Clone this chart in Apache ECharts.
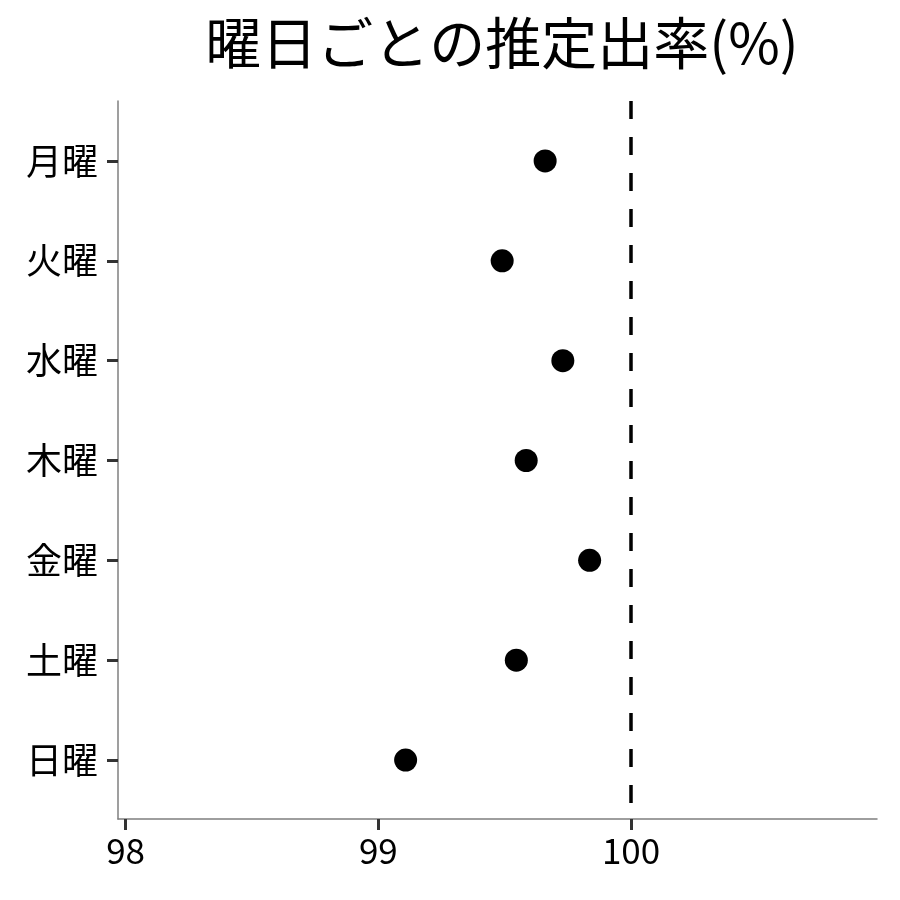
<!DOCTYPE html>
<html>
<head>
<meta charset="utf-8">
<script src="https://cdn.jsdelivr.net/npm/echarts@6/dist/echarts.min.js"></script>
<style>
  html, body { margin: 0; padding: 0; background: #fff; }
  #chart { width: 900px; height: 900px; }
</style>
</head>
<body>
<div id="chart"></div>
<script>
// 曜日ごとの推定出率
const days = ['月曜', '火曜', '水曜', '木曜', '金曜', '土曜', '日曜']
const rates = [99.66, 99.49, 99.73, 99.585, 99.836, 99.546, 99.108]
const xTicks = [98, 99, 100]
const refValue = 100

const FONT = '"Noto Sans CJK JP", "Noto Sans", sans-serif'
const dayPos = days.map((d, i) => i + 1)

const chart = echarts.init(document.getElementById('chart'))
chart.setOption({
  animation: false,
  backgroundColor: '#fff',
  title: {
    text: '曜日ごとの推定出率(%)',
    left: 497,
    textAlign: 'center',
    top: 10,
    textStyle: { fontFamily: FONT, fontSize: 56, fontWeight: 'normal', color: '#000' },
  },
  grid: { left: 118, right: 23, top: 101, bottom: 81, outerBoundsMode: 'none' },
  xAxis: {
    type: 'value',
    min: 97.97,
    max: 100.973,
    splitLine: { show: false },
    axisLine: { lineStyle: { color: '#7f7f7f', width: 1.5 } },
    axisTick: { customValues: xTicks, length: 11, lineStyle: { color: '#333', width: 3 } },
    axisLabel: {
      customValues: xTicks,
      margin: 14,
      fontFamily: FONT,
      fontSize: 35,
      color: '#000',
    },
  },
  yAxis: {
    type: 'value',
    inverse: true,
    min: 0.4,
    max: 7.59,
    splitLine: { show: false },
    axisLine: { show: true, lineStyle: { color: '#7f7f7f', width: 1.5 } },
    axisTick: { show: true, customValues: dayPos, length: 11, lineStyle: { color: '#333', width: 3 } },
    axisLabel: {
      customValues: dayPos,
      margin: 20,
      fontFamily: FONT,
      fontSize: 36,
      color: '#000',
      formatter: (v) => days[Math.round(v) - 1] || '',
    },
  },
  series: [
    {
      type: 'scatter',
      data: rates.map((v, i) => [v, i + 1]),
      symbolSize: 23,
      itemStyle: { color: '#000', opacity: 1 },
      emphasis: { disabled: true },
      markLine: {
        silent: true,
        symbol: 'none',
        label: { show: false },
        lineStyle: { color: '#000', width: 3.5, type: [18, 18], opacity: 1 },
        data: [{ xAxis: refValue }],
      },
    },
  ],
})
</script>
</body>
</html>
